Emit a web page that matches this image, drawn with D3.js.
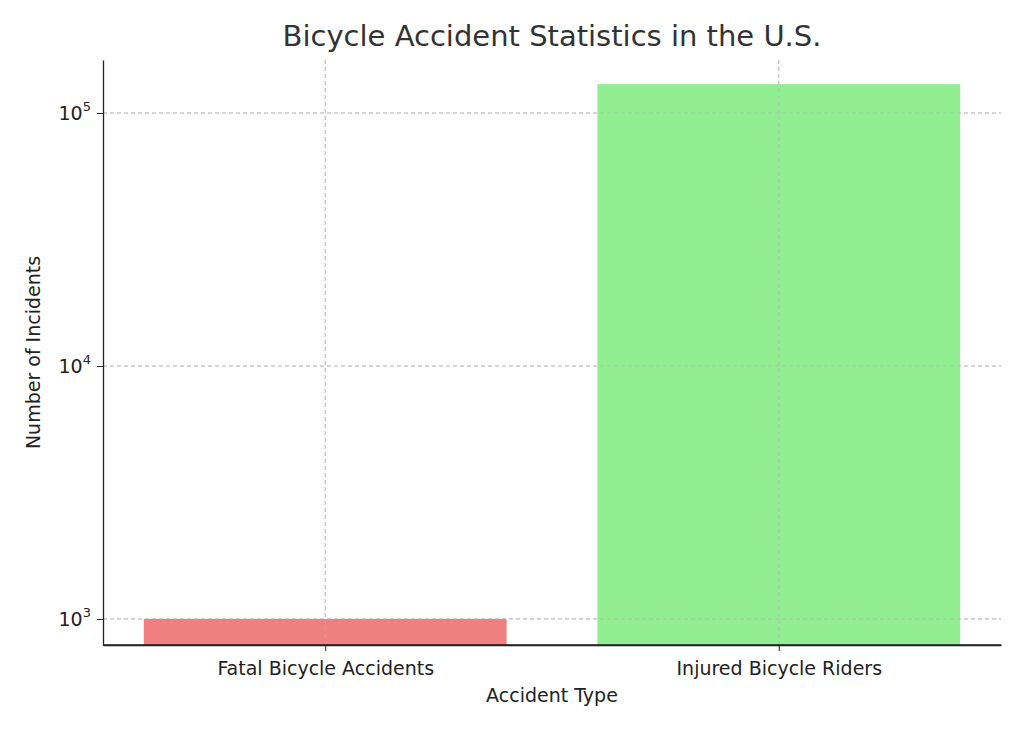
<!DOCTYPE html>
<html><head><meta charset="utf-8">
<script src="https://cdn.jsdelivr.net/npm/d3@7"></script>
<style>body{margin:0;background:#fff;font-family:"DejaVu Sans",sans-serif;}</style>
</head><body><svg id="chart" width="1024" height="731"></svg>
<script>
const categories = ["Fatal Bicycle Accidents", "Injured Bicycle Riders"];
const incidents = [1000, 130000];
const barColors = ["#f08080", "#90ee90"];
const yTicks = [1000, 10000, 100000];

const svg = d3.select("#chart");
const margin = { top: 60, right: 23, bottom: 86, left: 103 };
const width = 1024 - margin.left - margin.right;
const height = 731 - margin.top - margin.bottom;
const g = svg.append("g").attr("transform", `translate(${margin.left},${margin.top})`);

const x = d3.scaleLinear().domain([-0.49, 1.49]).range([0, width]);
const y = d3.scaleLog().domain([789, 162000]).range([height, 0]);
const barW = x(0.8) - x(0);

// grid
g.selectAll("line.vgrid").data(categories).join("line")
  .attr("x1", (d, i) => x(i)).attr("x2", (d, i) => x(i))
  .attr("y1", 0).attr("y2", height)
  .attr("stroke", "#ccc").attr("stroke-dasharray", "4,3");
g.selectAll("line.hgrid").data(yTicks).join("line")
  .attr("x1", 0).attr("x2", width)
  .attr("y1", d => y(d)).attr("y2", d => y(d))
  .attr("stroke", "#ccc").attr("stroke-dasharray", "4,3");

g.selectAll("rect").data(incidents).join("rect")
  .attr("x", (d, i) => x(i) - barW / 2)
  .attr("width", barW)
  .attr("y", d => y(d))
  .attr("height", d => height - y(d))
  .attr("fill", (d, i) => barColors[i]);

// grid over bars like matplotlib default (drawn above)
g.selectAll("line.vgrid2").data(categories).join("line")
  .attr("x1", (d, i) => x(i)).attr("x2", (d, i) => x(i))
  .attr("y1", 0).attr("y2", height)
  .attr("stroke", "#b0b0b0").attr("stroke-opacity", 0.6).attr("stroke-dasharray", "4,3");
g.selectAll("line.hgrid2").data(yTicks).join("line")
  .attr("x1", 0).attr("x2", width)
  .attr("y1", d => y(d)).attr("y2", d => y(d))
  .attr("stroke", "#b0b0b0").attr("stroke-opacity", 0.6).attr("stroke-dasharray", "4,3");

// axes
const xAxis = g.append("g").attr("transform", `translate(0,${height})`)
  .call(d3.axisBottom(x).tickValues([0, 1]).tickFormat(i => categories[i]).tickSize(6).tickSizeOuter(0));
const yAxis = g.append("g")
  .call(d3.axisLeft(y).tickValues(yTicks).tickFormat("").tickSize(6).tickSizeOuter(0));
[xAxis, yAxis].forEach(a => {
  a.select(".domain").attr("stroke", "#222").attr("stroke-width", 1.3);
  a.selectAll(".tick line").attr("stroke", "#222");
});
g.append("line").attr("x1", 0).attr("x2", width).attr("y1", height).attr("y2", height).attr("stroke", "#222").attr("stroke-width", 1.3);
xAxis.selectAll("text").attr("font-size", 19).attr("fill", "#222").attr("dy", "1.1em")
  .attr("font-family", "DejaVu Sans");

g.selectAll("text.ylab").data(yTicks).join("text")
  .attr("x", -12).attr("y", d => y(d) + 7)
  .attr("text-anchor", "end").attr("font-size", 19).attr("fill", "#222")
  .each(function (d) {
    const t = d3.select(this);
    t.append("tspan").text("10");
    t.append("tspan").attr("dy", -9).attr("font-size", 13).text(Math.round(Math.log10(d)));
  });

svg.append("text").attr("x", margin.left + width / 2).attr("y", 702)
  .attr("text-anchor", "middle").attr("font-size", 19).attr("fill", "#222").text("Accident Type");
svg.append("text").attr("transform", `translate(40,${margin.top + height / 2}) rotate(-90)`)
  .attr("text-anchor", "middle").attr("font-size", 19).attr("fill", "#222").text("Number of Incidents");
svg.append("text").attr("x", margin.left + width / 2).attr("y", 46)
  .attr("text-anchor", "middle").attr("font-size", 29).attr("fill", "#333").text("Bicycle Accident Statistics in the U.S.");
</script></body></html>
